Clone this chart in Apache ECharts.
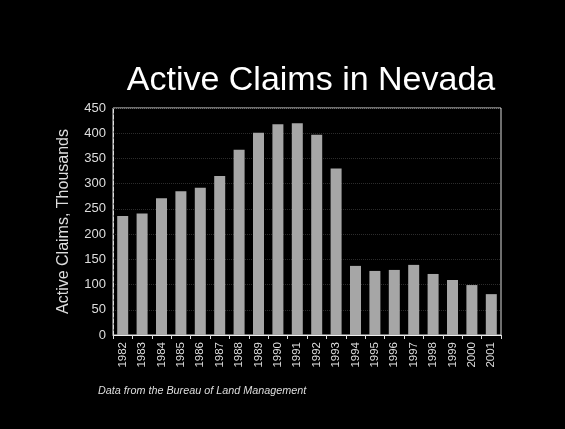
<!DOCTYPE html>
<html>
<head>
<meta charset="utf-8">
<script src="https://cdn.jsdelivr.net/npm/echarts@6/dist/echarts.min.js"></script>
<style>
  html, body { margin: 0; padding: 0; background: #000; }
  #chart { width: 565px; height: 429px; }
</style>
</head>
<body>
<div id="chart"></div>
<script>
// years along the x axis
const years = ['1982', '1983', '1984', '1985', '1986', '1987', '1988', '1989', '1990', '1991',
  '1992', '1993', '1994', '1995', '1996', '1997', '1998', '1999', '2000', '2001'];
// active claims, thousands
const claims = [236, 241, 271, 285, 292, 315, 367, 401, 418, 420,
  397, 330, 137, 127, 129, 139, 121, 109, 99, 81];
const yTicks = { min: 0, max: 450, step: 50 };

const chart = echarts.init(document.getElementById('chart'));

const option = {
  backgroundColor: '#000',
  animation: false,
  title: [
    {
      text: 'Active Claims in Nevada',
      left: 306,
      top: 59,
      textAlign: 'center',
      textStyle: { color: '#fff', fontSize: 34, fontWeight: 'normal', fontFamily: 'Liberation Sans, Arial' }
    },
    {
      text: 'Data from the Bureau of Land Management',
      left: 93,
      top: 380,
      textStyle: { color: '#ddd', fontSize: 10.8, fontStyle: 'italic', fontWeight: 'normal', fontFamily: 'Liberation Sans, Arial' }
    }
  ],
  grid: {
    left: 113,
    right: 64,
    top: 108,
    bottom: 94,
    show: true,
    borderColor: '#ddd',
    borderWidth: 1
  },
  xAxis: {
    type: 'category',
    data: years,
    axisLine: { lineStyle: { color: '#eee', width: 1 } },
    axisTick: { show: true, length: 4, lineStyle: { color: '#ddd' } },
    axisLabel: {
      rotate: 90,
      margin: 7,
      color: '#ddd',
      fontSize: 11.5,
      fontFamily: 'Liberation Sans, Arial'
    }
  },
  yAxis: {
    type: 'value',
    min: yTicks.min,
    max: yTicks.max,
    interval: yTicks.step,
    name: 'Active Claims, Thousands',
    nameLocation: 'middle',
    nameGap: 41,
    nameTextStyle: { color: '#ddd', fontSize: 16, fontFamily: 'Liberation Sans, Arial' },
    axisLine: { show: true, lineStyle: { color: '#ddd', type: [4, 2] } },
    axisTick: { show: false },
    splitLine: { show: true, lineStyle: { color: '#2c2c2c', type: 'dotted' } },
    axisLabel: {
      color: '#ddd',
      fontSize: 13,
      margin: 7,
      fontFamily: 'Liberation Sans, Arial'
    }
  },
  series: [
    {
      type: 'bar',
      data: claims,
      barWidth: 11,
      itemStyle: { color: '#a6a6a6' }
    }
  ]
};

chart.setOption(option);
</script>
</body>
</html>
